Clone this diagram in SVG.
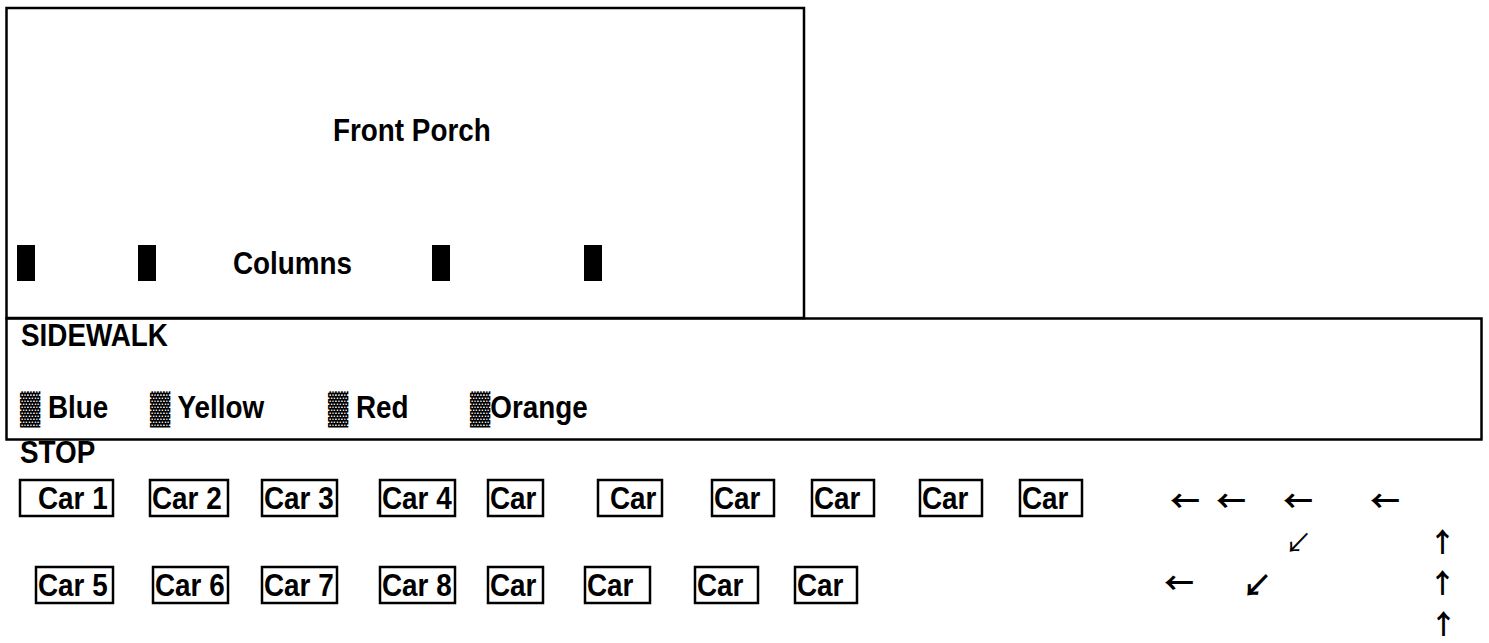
<svg xmlns="http://www.w3.org/2000/svg" width="1489" height="643" viewBox="0 0 1489 643">
<style>
.t{font-family:"Liberation Sans","DejaVu Sans",sans-serif;font-weight:bold;font-size:32px;fill:#000}
.box{fill:none;stroke:#000;stroke-width:2.5}
.car{fill:#fff;stroke:#000;stroke-width:2.5}
.col{fill:#000}
.arr{font-family:"Noto Sans CJK JP","DejaVu Sans",sans-serif;font-weight:bold;font-size:30px;fill:#000}
.up{font-family:"Noto Sans CJK JP","DejaVu Sans",sans-serif;font-weight:bold;font-size:27px;fill:#000}
.arrthin{font-family:"Noto Sans CJK JP","DejaVu Sans",sans-serif;font-weight:normal;font-size:27px;fill:#000}
</style>
<rect width="1489" height="643" fill="#fff"/>
<g id="porch">
<rect class="box" x="6.5" y="8" width="797.5" height="310"/>
<text class="t" transform="matrix(0.87 0 0 1 333 141)">Front Porch</text>
</g>
<g id="columns">
<rect class="col" x="17" y="245" width="18" height="36"/>
<rect class="col" x="138" y="245" width="18" height="36"/>
<rect class="col" x="432" y="245" width="18" height="36"/>
<rect class="col" x="584" y="245" width="18" height="36"/>
<text class="t" transform="matrix(0.87 0 0 1 233 274)">Columns</text>
</g>
<g id="sidewalk">
<rect class="box" x="6.5" y="318.5" width="1475" height="121"/>
<text class="t" transform="matrix(0.87 0 0 1 21 346)">SIDEWALK</text>
<text class="t" transform="matrix(0.87 0 0 1 20 418)">▓ Blue</text>
<text class="t" transform="matrix(0.87 0 0 1 150 418)">▓ Yellow</text>
<text class="t" transform="matrix(0.87 0 0 1 328 418)">▓ Red</text>
<text class="t" transform="matrix(0.87 0 0 1 470 418)">▓Orange</text>
</g>
<g id="stop"><text class="t" transform="matrix(0.87 0 0 1 20 463)">STOP</text></g>
<g id="cars-row1">
<g id="car1"><rect class="car" x="20" y="480" width="93" height="36"/><text class="t" transform="matrix(0.87 0 0 1 38 509)">Car 1</text></g>
<g id="car2"><rect class="car" x="150" y="480" width="78" height="36"/><text class="t" transform="matrix(0.87 0 0 1 152 509)">Car 2</text></g>
<g id="car3"><rect class="car" x="262" y="480" width="75" height="36"/><text class="t" transform="matrix(0.87 0 0 1 264 509)">Car 3</text></g>
<g id="car4"><rect class="car" x="380" y="480" width="75" height="36"/><text class="t" transform="matrix(0.87 0 0 1 382 509)">Car 4</text></g>
<g id="car9"><rect class="car" x="488" y="480" width="55" height="36"/><text class="t" transform="matrix(0.87 0 0 1 490 509)">Car</text></g>
<g id="car10"><rect class="car" x="598" y="480" width="64" height="36"/><text class="t" transform="matrix(0.87 0 0 1 610 509)">Car</text></g>
<g id="car11"><rect class="car" x="712" y="480" width="62" height="36"/><text class="t" transform="matrix(0.87 0 0 1 714 509)">Car</text></g>
<g id="car12"><rect class="car" x="812" y="480" width="62" height="36"/><text class="t" transform="matrix(0.87 0 0 1 814 509)">Car</text></g>
<g id="car13"><rect class="car" x="920" y="480" width="62" height="36"/><text class="t" transform="matrix(0.87 0 0 1 922 509)">Car</text></g>
<g id="car14"><rect class="car" x="1020" y="480" width="62" height="36"/><text class="t" transform="matrix(0.87 0 0 1 1022 509)">Car</text></g>
</g>
<g id="cars-row2">
<g id="car5"><rect class="car" x="36" y="567" width="77" height="36"/><text class="t" transform="matrix(0.87 0 0 1 38 596)">Car 5</text></g>
<g id="car6"><rect class="car" x="153" y="567" width="75" height="36"/><text class="t" transform="matrix(0.87 0 0 1 155 596)">Car 6</text></g>
<g id="car7"><rect class="car" x="262" y="567" width="75" height="36"/><text class="t" transform="matrix(0.87 0 0 1 264 596)">Car 7</text></g>
<g id="car8"><rect class="car" x="380" y="567" width="75" height="36"/><text class="t" transform="matrix(0.87 0 0 1 382 596)">Car 8</text></g>
<g id="car15"><rect class="car" x="488" y="567" width="55" height="36"/><text class="t" transform="matrix(0.87 0 0 1 490 596)">Car</text></g>
<g id="car16"><rect class="car" x="585" y="567" width="65" height="36"/><text class="t" transform="matrix(0.87 0 0 1 587 596)">Car</text></g>
<g id="car17"><rect class="car" x="695" y="567" width="63" height="36"/><text class="t" transform="matrix(0.87 0 0 1 697 596)">Car</text></g>
<g id="car18"><rect class="car" x="795" y="567" width="62" height="36"/><text class="t" transform="matrix(0.87 0 0 1 797 596)">Car</text></g>
</g>
<g id="connectors">
<text class="arr" x="1170" y="512">←</text>
<text class="arr" x="1216" y="512">←</text>
<text class="arr" x="1283" y="512">←</text>
<text class="arr" x="1370" y="512">←</text>
<text class="arrthin" x="1285" y="553">↙</text>
<text class="up" x="1429" y="552">↑</text>
<text class="arr" x="1164" y="594">←</text>
<text class="arr" x="1242" y="596">↙</text>
<text class="up" x="1429" y="593">↑</text>
<text class="up" x="1430" y="634">↑</text>
</g>
</svg>
